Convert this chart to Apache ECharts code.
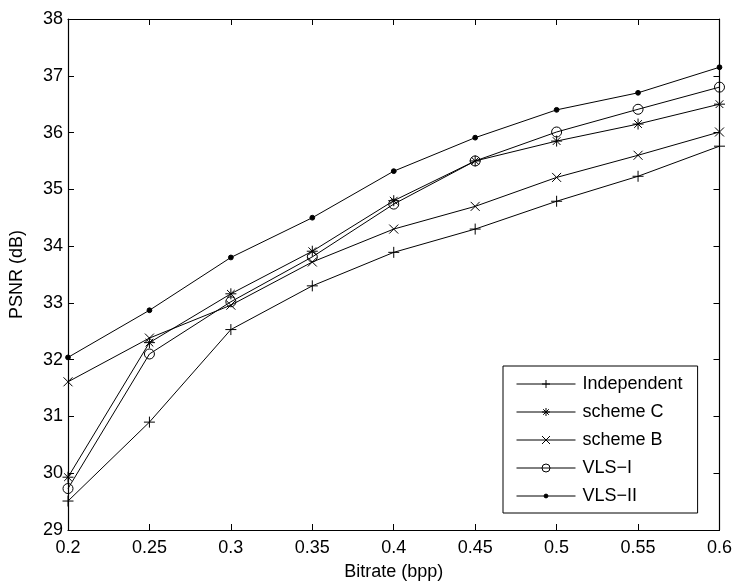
<!DOCTYPE html>
<html>
<head>
<meta charset="utf-8">
<script src="https://cdn.jsdelivr.net/npm/echarts@6/dist/echarts.min.js"></script>
<style>
html,body{margin:0;padding:0;background:#fff;}
#chart{width:735px;height:586px;}
</style>
</head>
<body>
<div id="chart"></div>
<script>
var bitrate = [0.2, 0.25, 0.3, 0.35, 0.4, 0.45, 0.5, 0.55, 0.6];
var independent = [29.51, 30.90, 32.53, 33.30, 33.89, 34.30, 34.79, 35.23, 35.76];
var schemeC = [29.93, 32.30, 33.16, 33.91, 34.80, 35.50, 35.85, 36.15, 36.50];
var schemeB = [31.61, 32.38, 32.96, 33.72, 34.30, 34.70, 35.21, 35.60, 36.01];
var vlsI = [29.73, 32.10, 33.02, 33.81, 34.74, 35.50, 36.01, 36.41, 36.80];
var vlsII = [32.04, 32.87, 33.80, 34.50, 35.32, 35.91, 36.40, 36.70, 37.15];
var seriesNames = ['Independent', 'scheme C', 'scheme B', 'VLS\u2212I', 'VLS\u2212II'];

function pairs(ys) { return bitrate.map(function (x, i) { return [x, ys[i]]; }); }

var FONT = 'Liberation Sans, Arial, Helvetica, sans-serif';
var symbols = {
  plus: 'path://M0,5L10,5M5,0L5,10',
  cross: 'path://M0,0L10,10M0,10L10,0',
  star: 'path://M0,5L10,5M5,0L5,10M1.5,1.5L8.5,8.5M1.5,8.5L8.5,1.5',
  dot: 'path://M0,0M10,10M2.6,5A2.4,2.4 0 1,0 7.4,5A2.4,2.4 0 1,0 2.6,5Z'
};

function mkSeries(name, ys, symbol, size, fill) {
  return {
    name: name,
    type: 'line',
    data: pairs(ys),
    symbol: symbol,
    symbolSize: size,
    showSymbol: true,
    showAllSymbol: true,
    lineStyle: { color: '#000', width: 1 },
    itemStyle: { color: fill, borderColor: '#000', borderWidth: 1 },
    emphasis: { disabled: true },
    animation: false
  };
}

var chart = echarts.init(document.getElementById('chart'));
chart.setOption({
  backgroundColor: '#fff',
  animation: false,
  grid: { left: 68, right: 15, top: 19, bottom: 54, containLabel: false },
  xAxis: [{
    type: 'value', min: 0.2, max: 0.6, interval: 0.05, position: 'bottom',
    name: 'Bitrate (bpp)', nameLocation: 'middle', nameGap: 33,
    nameTextStyle: { fontFamily: FONT, fontSize: 18, color: '#000' },
    axisLine: { onZero: false, lineStyle: { color: '#000', width: 1.2 } },
    axisTick: { inside: true, length: 6, lineStyle: { color: '#000' } },
    axisLabel: { fontFamily: FONT, fontSize: 18, color: '#000', margin: 9 },
    splitLine: { show: false }
  }, {
    type: 'value', min: 0.2, max: 0.6, interval: 0.05, position: 'top',
    axisLine: { onZero: false, lineStyle: { color: '#000', width: 1.2 } },
    axisTick: { inside: true, length: 6, lineStyle: { color: '#000' } },
    axisLabel: { show: false },
    splitLine: { show: false }
  }],
  yAxis: [{
    type: 'value', min: 29, max: 38, interval: 1, position: 'left',
    name: 'PSNR (dB)', nameLocation: 'middle', nameGap: 42,
    nameTextStyle: { fontFamily: FONT, fontSize: 18, color: '#000' },
    axisLine: { show: true, onZero: false, lineStyle: { color: '#000', width: 1.2 } },
    axisTick: { show: true, inside: true, length: 6, lineStyle: { color: '#000' } },
    axisLabel: { fontFamily: FONT, fontSize: 18, color: '#000', margin: 5 },
    splitLine: { show: false }
  }, {
    type: 'value', min: 29, max: 38, interval: 1, position: 'right',
    axisLine: { show: true, onZero: false, lineStyle: { color: '#000', width: 1.2 } },
    axisTick: { show: true, inside: true, length: 6, lineStyle: { color: '#000' } },
    axisLabel: { show: false },
    splitLine: { show: false }
  }],
  legend: {
    orient: 'vertical', left: 503, top: 366,
    padding: [9, 15, 8, 13],
    itemWidth: 59, itemHeight: 10, itemGap: 10,
    backgroundColor: '#fff', borderColor: '#000', borderWidth: 1,
    lineStyle: { width: 1, color: '#000' },
    itemStyle: { borderWidth: 1, borderColor: '#000' },
    textStyle: { fontFamily: FONT, fontSize: 18, color: '#000', lineHeight: 18, padding: [0, 0, 0, 2] },
    selectedMode: false,
    data: seriesNames
  },
  series: [
    mkSeries(seriesNames[0], independent, symbols.plus, 11, 'none'),
    mkSeries(seriesNames[1], schemeC, symbols.star, 11, 'none'),
    mkSeries(seriesNames[2], schemeB, symbols.cross, 9, 'none'),
    mkSeries(seriesNames[3], vlsI, 'circle', 10, 'none'),
    mkSeries(seriesNames[4], vlsII, symbols.dot, 10, '#000')
  ]
});
</script>
</body>
</html>
